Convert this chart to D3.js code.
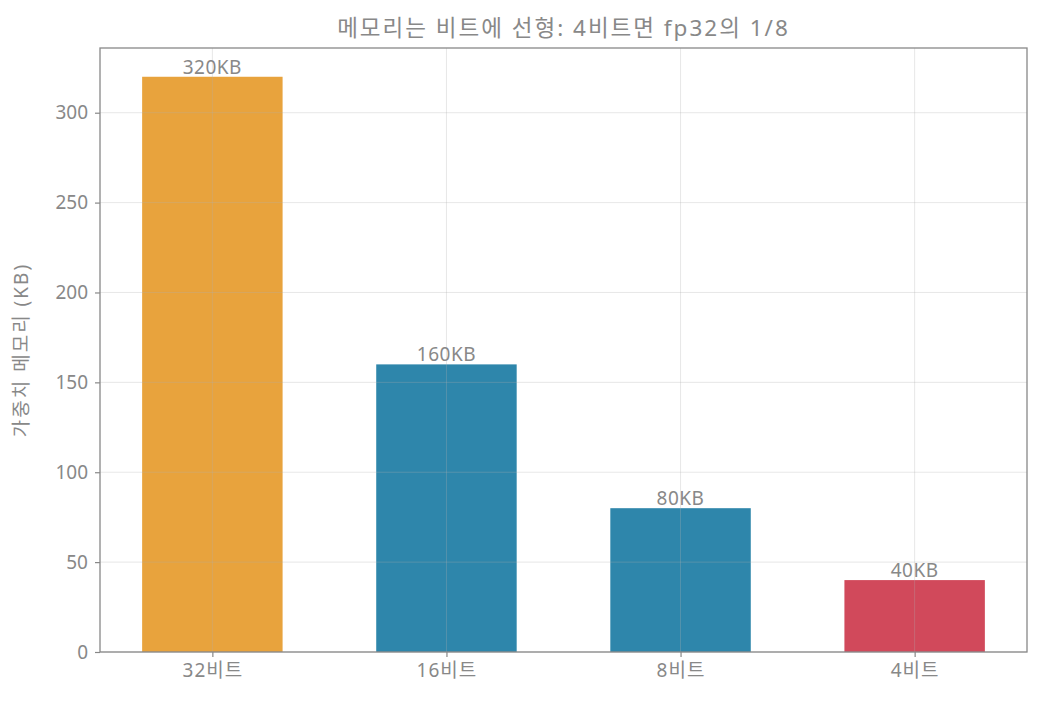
<!DOCTYPE html>
<html>
<head>
<meta charset="utf-8">
<script src="https://cdn.jsdelivr.net/npm/d3@7"></script>
<style>
  body { margin:0; background:#fff; }
  svg text { font-family:"Noto Sans","Noto Sans CJK KR",sans-serif; fill:#888; }
</style>
</head>
<body>
<svg id="chart" width="1042" height="706"></svg>
<script>
const categories = ['32비트', '16비트', '8비트', '4비트'];
const memoryKB = [320, 160, 80, 40];
const barLabels = ['320KB', '160KB', '80KB', '40KB'];
const barColors = ['#E8A33D', '#2E86AB', '#2E86AB', '#D1495B'];
const yTicks = [0, 50, 100, 150, 200, 250, 300];

const m = { left:100, right:1027, top:48, bottom:652 };
const svg = d3.select('#chart');

const x = d3.scaleLinear().domain([-0.48, 3.48]).range([m.left, m.right]);
const y = d3.scaleLinear().domain([0, 336]).range([m.bottom, m.top]);
const barW = x(0.6) - x(0);

// bars
svg.append('g').selectAll('rect').data(memoryKB).join('rect')
  .attr('x', (d,i) => x(i) - barW/2)
  .attr('y', d => y(d))
  .attr('width', barW)
  .attr('height', d => y(0) - y(d))
  .attr('fill', (d,i) => barColors[i]);

// grid on top, faint
const grid = svg.append('g').attr('stroke', '#b0b0b0').attr('stroke-opacity', 0.3).attr('stroke-width', 1);
grid.selectAll('.gy').data(yTicks).join('line')
  .attr('x1', m.left).attr('x2', m.right)
  .attr('y1', d => y(d)).attr('y2', d => y(d));
grid.selectAll('.gx').data(categories).join('line')
  .attr('x1', (d,i) => x(i)).attr('x2', (d,i) => x(i))
  .attr('y1', m.top).attr('y2', m.bottom);

// value labels
svg.append('g').selectAll('text').data(memoryKB).join('text')
  .attr('x', (d,i) => x(i)).attr('y', d => y(d) - 3)
  .attr('text-anchor', 'middle').style('font-size', '19px').style('letter-spacing', '0.5px')
  .text((d,i) => barLabels[i]);

// axes
const yAxis = svg.append('g').attr('transform', `translate(${m.left},0)`)
  .call(d3.axisLeft(y).tickValues(yTicks).tickSize(5).tickPadding(7));
const xAxis = svg.append('g').attr('transform', `translate(0,${m.bottom})`)
  .call(d3.axisBottom(x).tickValues([0,1,2,3]).tickFormat(i => categories[i]).tickSize(5).tickPadding(7));
[yAxis, xAxis].forEach(a => {
  a.select('.domain').remove();
  a.selectAll('line').attr('stroke', '#888').attr('stroke-width', 1.2);
  a.selectAll('text').style('font-size', '19px').attr('fill', '#888');
});
xAxis.selectAll('text').style('letter-spacing', '1px');

// frame
svg.append('rect').attr('x', m.left).attr('y', m.top)
  .attr('width', m.right - m.left).attr('height', m.bottom - m.top)
  .attr('fill', 'none').attr('stroke', '#888').attr('stroke-width', 1.3);

// title and axis label
svg.append('text').attr('x', (m.left + m.right)/2).attr('y', 36)
  .attr('text-anchor', 'middle').style('font-size', '22.5px').style('letter-spacing', '2px')
  .text('메모리는 비트에 선형: 4비트면 fp32의 1/8');
svg.append('text').attr('transform', `translate(28,${(m.top + m.bottom)/2}) rotate(-90)`)
  .attr('text-anchor', 'middle').style('font-size', '19px').style('letter-spacing', '2px')
  .text('가중치 메모리 (KB)');
</script>
</body>
</html>
